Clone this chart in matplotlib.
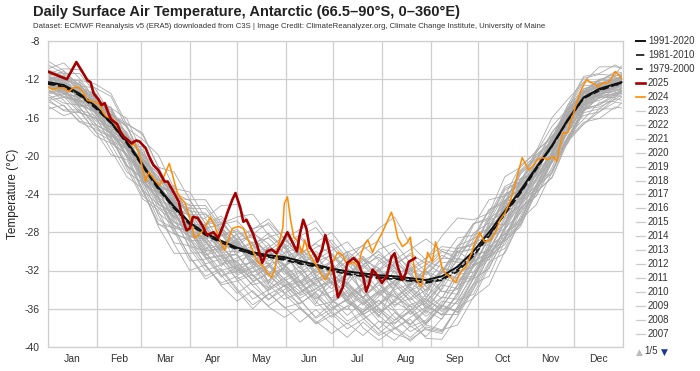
import matplotlib
matplotlib.use("Agg")
import matplotlib.pyplot as plt
from matplotlib.lines import Line2D

plt.rcParams["font.family"] = ["Liberation Sans", "DejaVu Sans"]

# day of year (0 = Jan 1) for the gray years and the climatologies
grid_days = [0, 10, 20, 30, 40, 50, 60, 70, 80, 90, 100, 110, 120, 130, 140, 150, 160, 170, 180,
             190, 200, 210, 220, 230, 240, 250, 260, 270, 280, 290, 300, 310, 320, 330, 340, 350,
             360, 364]

clim_1991_2020 = [-12.3, -12.6, -13.5, -14.8, -16.5, -18.5, -20.9, -23.3, -25.3, -27.0, -28.1, -28.9,
                  -29.6, -30.1, -30.4, -30.6, -31.0, -31.4, -31.8, -32.1, -32.3, -32.5, -32.6, -32.8,
                  -33.0, -32.6, -31.6, -30.0, -28.0, -25.8, -23.6, -21.2, -18.9, -16.2, -13.9, -13.0,
                  -12.5, -12.3]
clim_1981_2010 = [-12.4, -12.7, -13.6, -14.9, -16.6, -18.6, -21.0, -23.4, -25.4, -27.1, -28.2, -29.0,
                  -29.7, -30.3, -30.5, -30.8, -31.2, -31.5, -31.9, -32.3, -32.5, -32.7, -32.8, -33.0,
                  -33.2, -32.9, -31.9, -30.3, -28.3, -26.0, -23.8, -21.3, -19.0, -16.3, -14.0, -13.1,
                  -12.6, -12.4]
clim_1979_2000 = [-12.5, -12.8, -13.7, -15.0, -16.6, -18.7, -21.1, -23.5, -25.5, -27.2, -28.3, -29.1,
                  -29.8, -30.3, -30.6, -30.9, -31.3, -31.6, -32.0, -32.4, -32.6, -32.8, -32.9, -33.1,
                  -33.3, -33.0, -32.1, -30.5, -28.4, -26.1, -23.9, -21.4, -19.0, -16.3, -14.0, -13.2,
                  -12.6, -12.5]

days_2025 = [0, 6, 12, 18, 21, 25, 27, 29, 32, 34, 36, 38, 40, 44, 46, 48, 51, 53, 56, 58, 62, 64, 67,
             70, 74, 76, 79, 83, 86, 88, 90, 92, 95, 98, 101, 105, 108, 111, 114, 117, 119, 122, 124,
             126, 130, 133, 136, 139, 142, 145, 149, 152, 155, 158, 160, 162, 164, 166, 170, 171, 174,
             176, 178, 181, 184, 187, 190, 194, 197, 200, 202, 204, 206, 209, 212, 215, 218, 220, 222,
             225, 227, 229, 231, 233]
t_2025 = [-11.2, -11.6, -12.0, -10.2, -11.0, -12.1, -12.3, -13.5, -14.1, -14.7, -14.5, -15.4, -16.2,
          -16.7, -17.5, -18.0, -18.4, -18.7, -18.4, -18.5, -19.2, -20.0, -21.0, -21.5, -22.7, -22.7,
          -23.6, -24.8, -26.9, -27.8, -27.6, -26.4, -26.5, -27.3, -28.3, -28.0, -28.6, -27.4, -25.9,
          -24.6, -23.9, -25.4, -26.9, -26.7, -28.1, -29.5, -31.2, -30.0, -29.8, -30.2, -29.0, -28.0,
          -29.0, -30.0, -28.1, -26.7, -27.6, -29.5, -30.6, -31.1, -29.8, -28.3, -29.5, -31.9, -34.8,
          -33.8, -31.2, -30.7, -31.2, -32.6, -34.2, -33.3, -31.9, -32.5, -33.3, -32.6, -30.6, -30.2,
          -31.6, -33.0, -32.3, -31.1, -30.9, -30.7]

days_2024 = [0, 3, 6, 10, 13, 16, 19, 22, 25, 30, 33, 35, 37, 41, 44, 47, 50, 53, 55, 58, 62, 64, 68,
             71, 74, 77, 79, 82, 85, 87, 90, 93, 97, 100, 103, 106, 109, 112, 114, 117, 121, 124, 127,
             130, 133, 137, 139, 142, 144, 146, 149, 150, 152, 154, 156, 159, 161, 163, 165, 168, 171,
             173, 176, 178, 181, 184, 187, 190, 194, 197, 199, 201, 203, 206, 209, 212, 215, 218, 220,
             222, 225, 228, 230, 232, 234, 237, 239, 241, 244, 246, 248, 250, 252, 254, 256, 259, 260,
             263, 265, 267, 269, 271, 274, 277, 281, 284, 287, 290, 293, 295, 298, 301, 303, 305, 308,
             311, 314, 317, 321, 323, 325, 327, 330, 331, 333, 336, 339, 342, 344, 347, 349, 352, 355,
             357, 360, 362, 364]
t_2024 = [-12.8, -13.1, -12.9, -12.9, -13.3, -12.9, -12.8, -13.3, -14.2, -14.4, -14.7, -15.5, -15.9,
          -16.1, -17.0, -17.8, -18.2, -18.9, -18.7, -19.9, -22.7, -21.7, -22.6, -23.1, -22.0, -20.8,
          -22.0, -23.8, -24.6, -24.9, -26.5, -28.6, -28.1, -27.4, -26.4, -27.4, -28.8, -29.9, -29.0,
          -27.6, -27.4, -27.6, -28.8, -29.9, -31.1, -31.6, -32.2, -32.7, -31.9, -29.5, -27.6, -25.0,
          -24.3, -26.7, -28.5, -29.0, -30.2, -28.8, -30.0, -30.9, -31.6, -32.3, -33.0, -32.4, -31.0,
          -30.1, -30.4, -31.4, -31.1, -31.6, -30.1, -29.3, -28.8, -30.1, -29.0, -28.1, -27.0, -25.9,
          -27.0, -28.6, -29.5, -29.1, -28.5, -31.2, -33.0, -33.7, -31.9, -30.1, -31.1, -29.0, -30.2,
          -31.6, -32.3, -32.5, -32.8, -33.3, -32.8, -31.9, -31.7, -30.9, -30.1, -29.0, -28.0, -29.0,
          -28.8, -28.0, -26.7, -26.0, -24.9, -23.9, -22.0, -20.2, -20.8, -21.5, -21.0, -20.4, -20.2,
          -20.4, -20.1, -20.6, -18.9, -17.6, -17.6, -16.8, -15.9, -14.2, -12.9, -12.0, -12.3, -12.5,
          -12.8, -12.4, -12.4, -12.1, -11.2, -11.5, -11.9]

# earlier years (gray), sampled every 10 days
y2023 = [-12.0, -12.8, -13.0, -14.6, -16.9, -17.9, -19.9, -23.0, -26.1, -28.5, -27.7, -27.1, -28.7,
         -31.3, -32.5, -30.1, -28.6, -30.3, -32.7, -34.7, -33.3, -31.0, -29.8, -32.2, -34.8, -33.1,
         -29.7, -29.2, -29.0, -25.1, -22.4, -21.8, -18.5, -15.3, -13.7, -13.3, -12.1, -12.2]
y2022 = [-12.8, -13.5, -13.8, -14.4, -15.7, -18.7, -22.0, -25.1, -25.9, -26.1, -26.6, -29.2, -31.6,
         -32.9, -31.5, -29.4, -31.4, -33.9, -34.9, -33.4, -31.5, -33.1, -35.3, -36.2, -34.5, -31.7,
         -32.4, -32.2, -29.4, -25.5, -24.6, -23.1, -19.6, -15.7, -14.3, -13.6, -12.7, -12.8]
y2021 = [-11.5, -11.4, -12.9, -15.1, -17.4, -19.9, -21.4, -22.5, -23.7, -26.6, -29.3, -29.6, -28.2,
         -27.9, -29.8, -32.1, -33.3, -31.8, -30.2, -31.8, -34.3, -35.5, -33.8, -31.9, -32.8, -34.2,
         -34.0, -30.9, -26.9, -24.0, -23.1, -22.0, -20.1, -16.5, -13.3, -12.1, -12.1, -11.8]
y2020 = [-12.5, -13.2, -14.5, -15.5, -16.7, -19.4, -22.5, -24.5, -25.8, -28.8, -30.7, -30.4, -30.3,
         -32.5, -33.9, -32.8, -32.0, -34.3, -35.9, -35.1, -33.9, -35.9, -37.2, -35.6, -34.9, -36.3,
         -34.7, -31.6, -30.5, -27.8, -24.8, -23.5, -20.4, -17.0, -15.0, -13.6, -12.8, -12.7]
y2019 = [-12.2, -12.1, -12.6, -14.5, -16.5, -17.8, -19.4, -22.7, -25.6, -26.2, -26.1, -27.8, -30.1,
         -29.7, -28.5, -28.0, -30.3, -32.2, -31.2, -30.0, -31.3, -32.9, -31.3, -30.4, -32.2, -33.2,
         -30.9, -28.1, -27.0, -25.6, -22.7, -19.9, -18.5, -15.4, -13.4, -12.7, -11.9, -12.1]
y2018 = [-13.0, -12.9, -13.3, -15.4, -17.7, -18.9, -20.6, -24.2, -27.3, -28.1, -27.9, -30.2, -32.3,
         -31.7, -30.0, -31.5, -33.8, -35.0, -33.5, -32.3, -34.2, -36.4, -35.2, -33.3, -34.4, -35.8,
         -33.6, -30.6, -29.8, -28.5, -25.0, -21.7, -20.5, -17.2, -14.2, -13.7, -13.0, -13.1]
y2017 = [-11.2, -12.0, -13.7, -14.3, -15.2, -17.7, -21.3, -23.1, -23.9, -24.7, -27.1, -29.5, -29.1,
         -28.1, -29.2, -31.5, -30.7, -29.6, -28.8, -30.7, -32.8, -31.9, -30.4, -31.7, -33.7, -32.2,
         -29.5, -27.1, -26.7, -26.1, -23.1, -19.6, -17.9, -16.0, -13.2, -12.0, -11.7, -11.4]
y2016 = [-12.6, -13.4, -14.0, -15.9, -17.1, -18.3, -21.6, -24.8, -26.3, -26.9, -29.0, -31.0, -31.0,
         -30.4, -32.1, -33.6, -33.1, -32.0, -33.3, -35.4, -36.3, -34.7, -33.4, -35.3, -36.8, -35.5,
         -32.6, -30.4, -29.9, -27.0, -23.9, -22.1, -20.7, -17.4, -14.5, -13.2, -12.9, -12.9]
y2015 = [-11.9, -11.7, -13.2, -15.3, -16.3, -17.5, -20.5, -23.9, -24.8, -25.7, -27.9, -29.9, -28.8,
         -28.5, -30.5, -32.4, -31.6, -30.0, -31.2, -33.4, -34.8, -33.2, -31.1, -32.5, -34.2, -32.0,
         -30.1, -29.8, -28.9, -25.4, -21.9, -20.4, -19.3, -15.9, -13.0, -12.6, -12.4, -12.0]
y2014 = [-13.2, -13.9, -14.3, -15.2, -17.5, -20.2, -22.0, -23.6, -26.7, -29.5, -29.9, -29.8, -31.8,
         -33.5, -33.0, -31.8, -33.9, -35.7, -35.3, -34.1, -35.4, -37.3, -37.6, -36.1, -35.4, -36.7,
         -35.2, -32.2, -30.8, -28.8, -25.5, -22.3, -20.6, -17.5, -14.7, -14.2, -13.4, -13.3]
y2013 = [-11.7, -12.4, -12.8, -13.6, -16.0, -18.8, -20.3, -21.9, -24.4, -27.4, -29.1, -28.4, -27.9,
         -29.3, -31.3, -30.8, -29.7, -31.0, -33.3, -32.9, -31.4, -30.6, -32.1, -34.1, -33.3, -31.2,
         -31.0, -31.1, -27.7, -24.3, -22.7, -21.1, -18.1, -15.8, -14.0, -12.5, -11.8, -11.9]
y2012 = [-12.7, -12.5, -14.1, -15.0, -15.8, -18.2, -21.7, -23.5, -24.7, -27.7, -30.0, -29.7, -29.0,
         -30.6, -32.4, -31.7, -30.1, -31.3, -33.4, -34.8, -33.5, -32.0, -33.5, -35.1, -34.0, -31.8,
         -32.1, -31.7, -28.6, -25.4, -24.4, -22.5, -19.1, -15.9, -14.4, -13.1, -12.8, -12.5]
y2011 = [-12.1, -13.0, -13.2, -14.0, -16.3, -19.1, -20.5, -22.2, -25.0, -25.5, -25.5, -27.7, -29.8,
         -29.0, -30.1, -31.6, -30.2, -29.2, -30.3, -32.4, -31.4, -29.8, -29.1, -31.2, -32.5, -30.8,
         -28.6, -28.3, -27.6, -24.8, -21.6, -20.3, -18.8, -15.6, -13.6, -12.3, -12.3, -12.3]
y2010 = [-12.4, -12.3, -13.7, -15.6, -17.8, -19.0, -20.6, -23.7, -26.5, -27.3, -27.6, -29.5, -31.2,
         -32.6, -31.7, -30.4, -31.7, -33.6, -33.2, -31.8, -32.8, -34.3, -35.6, -34.9, -33.4, -32.1,
         -32.8, -32.6, -29.9, -26.6, -25.2, -21.9, -18.7, -16.6, -14.7, -13.3, -12.4, -12.5]
y2009 = [-11.8, -12.5, -13.9, -14.6, -15.6, -16.9, -20.1, -23.5, -24.6, -25.1, -27.5, -29.7, -28.7,
         -27.6, -27.2, -29.3, -31.4, -30.4, -29.5, -31.3, -33.2, -31.3, -30.6, -32.4, -31.4, -29.8,
         -30.1, -29.7, -26.6, -23.6, -22.7, -21.4, -18.3, -15.1, -13.5, -12.8, -12.0, -11.7]
y2008 = [-12.9, -12.8, -14.4, -16.3, -17.3, -18.6, -22.2, -25.5, -26.9, -27.7, -30.1, -32.0, -31.5,
         -31.1, -33.1, -34.4, -33.4, -32.7, -35.0, -36.7, -35.3, -34.2, -36.1, -37.9, -37.2, -35.2,
         -35.5, -32.8, -29.6, -28.2, -26.7, -23.0, -19.8, -17.6, -14.9, -13.5, -13.2, -12.9]
y2007 = [-12.0, -11.8, -12.2, -14.1, -16.6, -18.1, -19.7, -22.8, -25.9, -28.4, -28.3, -27.6, -29.2,
         -31.2, -30.7, -29.0, -28.3, -30.5, -32.5, -31.5, -30.5, -32.2, -34.0, -33.4, -31.9, -30.4,
         -31.2, -30.9, -27.5, -24.6, -23.5, -21.9, -18.6, -15.3, -13.3, -12.6, -11.6, -11.6]
y2006 = [-13.1, -13.8, -14.2, -14.9, -17.1, -19.9, -21.8, -23.1, -25.7, -28.6, -30.4, -29.9, -29.2,
         -30.9, -32.6, -33.7, -32.5, -31.3, -33.1, -35.1, -36.1, -34.4, -33.2, -34.8, -36.5, -34.9,
         -32.3, -31.5, -30.6, -27.5, -24.1, -22.4, -19.7, -16.5, -14.6, -14.0, -13.1, -13.2]
y2005 = [-11.4, -12.2, -13.4, -14.2, -16.2, -19.0, -20.7, -22.4, -23.5, -26.3, -28.6, -28.3, -27.7,
         -29.2, -31.0, -30.2, -29.5, -31.6, -33.4, -32.5, -31.0, -30.0, -31.7, -33.6, -32.3, -30.7,
         -30.8, -28.5, -25.6, -24.7, -23.4, -20.4, -17.5, -15.6, -13.8, -12.4, -12.2, -11.8]
y2004 = [-12.5, -13.1, -14.6, -15.4, -16.4, -18.8, -21.9, -23.8, -24.9, -27.5, -29.5, -31.3, -30.7,
         -29.9, -31.4, -32.9, -34.2, -33.2, -32.3, -33.8, -35.2, -36.7, -35.0, -33.7, -35.1, -36.0,
         -36.1, -32.8, -29.4, -26.4, -25.1, -23.3, -19.9, -16.7, -14.8, -13.4, -12.7, -12.6]
y2003 = [-11.6, -11.2, -12.6, -14.6, -15.7, -17.0, -20.3, -23.7, -24.8, -25.8, -26.0, -28.1, -30.2,
         -29.4, -28.1, -29.6, -31.8, -30.9, -29.9, -29.0, -30.9, -32.7, -31.5, -30.2, -31.3, -32.3,
         -30.0, -29.1, -28.4, -25.0, -21.8, -20.1, -18.6, -15.3, -12.7, -12.5, -12.2, -11.9]
y2002 = [-13.5, -13.4, -15.0, -16.7, -17.6, -19.1, -22.7, -26.0, -27.3, -28.0, -30.5, -32.5, -32.1,
         -31.5, -33.5, -35.0, -34.3, -33.4, -35.6, -37.3, -36.3, -35.1, -36.9, -38.4, -37.4, -35.6,
         -36.3, -33.4, -30.1, -28.9, -27.2, -23.7, -20.5, -18.2, -15.2, -13.9, -13.9, -13.4]
y2001 = [-12.3, -12.9, -13.1, -13.9, -15.0, -17.8, -21.1, -24.3, -25.6, -26.2, -28.0, -30.1, -30.0,
         -29.1, -28.6, -30.2, -32.3, -33.4, -32.3, -31.0, -32.1, -34.0, -34.8, -33.5, -32.1, -32.8,
         -33.3, -30.8, -27.3, -26.1, -24.7, -21.6, -18.4, -16.1, -14.2, -12.8, -12.6, -12.2]
y2000 = [-12.8, -12.7, -13.3, -15.1, -17.4, -20.1, -21.6, -22.9, -25.8, -28.5, -28.7, -28.2, -30.5,
         -32.2, -31.4, -33.2, -34.5, -33.0, -32.1, -34.3, -35.6, -34.3, -33.0, -34.4, -35.9, -34.0,
         -31.4, -31.1, -30.0, -28.7, -25.1, -21.6, -20.0, -16.8, -14.1, -13.6, -12.9, -12.6]
y1999 = [-11.0, -11.7, -13.0, -13.8, -16.1, -18.7, -20.4, -22.2, -25.1, -27.7, -27.5, -27.2, -26.8,
         -28.6, -30.2, -29.2, -30.4, -32.0, -31.0, -30.1, -29.4, -30.9, -32.3, -31.8, -30.7, -29.5,
         -29.7, -29.4, -26.6, -25.3, -23.8, -20.6, -17.6, -15.4, -13.5, -12.1, -11.4, -11.5]
y1998 = [-12.7, -13.5, -13.9, -14.5, -16.7, -19.5, -22.6, -24.1, -25.0, -27.8, -29.7, -29.4, -31.4,
         -33.1, -32.3, -31.3, -33.1, -34.9, -34.2, -33.2, -34.9, -36.4, -35.3, -34.0, -35.7, -36.6,
         -34.4, -31.6, -28.6, -27.6, -26.0, -22.4, -19.5, -17.5, -14.7, -13.5, -13.3, -12.9]
y1997 = [-11.7, -12.3, -13.7, -14.4, -15.4, -18.0, -21.4, -23.0, -24.0, -26.5, -28.4, -27.9, -29.4,
         -31.4, -30.0, -28.7, -30.4, -32.4, -33.9, -32.5, -30.8, -31.8, -33.5, -32.0, -31.0, -31.7,
         -32.2, -29.8, -26.2, -23.2, -22.4, -20.9, -19.4, -15.8, -13.2, -12.9, -12.1, -12.0]
y1996 = [-13.3, -13.1, -13.6, -15.5, -17.9, -19.3, -21.1, -24.4, -27.4, -28.4, -28.5, -30.6, -32.5,
         -31.7, -31.2, -32.9, -34.6, -33.9, -32.8, -34.8, -36.6, -35.6, -34.1, -35.7, -37.6, -35.8,
         -33.5, -32.9, -30.0, -26.9, -25.5, -23.8, -20.3, -17.1, -15.1, -13.7, -13.5, -13.2]
y1995 = [-12.1, -12.0, -12.5, -14.3, -16.9, -18.2, -19.9, -21.6, -24.5, -27.2, -27.2, -26.9, -28.9,
         -30.6, -29.6, -30.5, -32.2, -31.1, -30.4, -31.9, -33.3, -32.0, -31.0, -32.5, -34.1, -32.2,
         -29.4, -28.7, -27.6, -24.2, -22.9, -21.5, -18.7, -15.7, -13.0, -12.4, -12.3, -11.9]
y1994 = [-12.6, -13.3, -14.7, -15.3, -16.2, -18.9, -22.2, -23.9, -25.4, -28.1, -28.6, -30.4, -32.0,
         -31.0, -32.4, -31.8, -33.6, -32.9, -32.2, -33.7, -34.8, -33.5, -34.7, -35.8, -35.2, -33.5,
         -33.9, -31.4, -28.5, -27.2, -24.5, -22.7, -19.6, -16.4, -14.5, -13.3, -13.0, -12.7]
y1993 = [-14.8, -15.8, -15.3, -17.4, -19.9, -20.4, -23.7, -27.2, -27.5, -30.6, -32.9, -32.0, -34.1,
         -36.0, -34.4, -35.8, -37.4, -36.1, -37.6, -39.0, -37.4, -38.8, -38.0, -39.4, -37.9, -38.3,
         -35.8, -33.4, -32.6, -28.9, -27.4, -23.8, -22.2, -18.3, -16.7, -15.4, -14.4, -14.5]
y1992 = [-10.5, -11.4, -11.4, -13.4, -15.9, -16.8, -20.5, -24.5, -27.6, -27.8, -30.7, -32.7, -31.6,
         -33.6, -35.1, -33.5, -35.1, -36.9, -35.4, -34.3, -36.7, -38.1, -36.4, -37.7, -36.2, -37.1,
         -34.3, -31.3, -30.9, -27.4, -23.3, -22.1, -18.1, -14.7, -11.7, -11.4, -10.5, -10.9]
y1991 = [-13.8, -14.8, -16.4, -16.8, -17.6, -20.9, -24.2, -25.4, -26.3, -29.7, -32.0, -31.4, -31.0,
         -33.1, -35.0, -34.0, -33.1, -35.2, -36.9, -35.7, -34.7, -36.7, -38.1, -36.9, -35.8, -36.6,
         -36.6, -33.6, -30.5, -29.7, -26.3, -23.0, -21.5, -17.9, -16.2, -14.4, -14.3, -13.9]
y1990 = [-10.1, -11.1, -12.7, -12.9, -13.8, -17.1, -18.3, -19.9, -23.4, -23.8, -26.5, -25.2, -25.1,
         -27.7, -26.6, -28.7, -27.7, -26.8, -29.2, -30.9, -29.3, -27.6, -26.4, -29.3, -30.9, -28.4,
         -26.5, -26.7, -26.0, -22.2, -21.2, -19.5, -16.0, -14.1, -12.3, -10.7, -10.7, -10.8]
y1989 = [-13.1, -14.2, -16.0, -17.9, -18.7, -19.8, -23.5, -27.1, -28.2, -28.7, -31.4, -33.5, -33.1,
         -32.4, -34.3, -35.9, -35.4, -34.4, -36.5, -38.1, -37.1, -36.0, -37.9, -39.0, -37.6, -35.7,
         -36.4, -33.9, -30.4, -29.3, -25.8, -24.2, -20.6, -18.6, -15.5, -15.1, -13.8, -13.3]
y1988 = [-15.1, -14.7, -16.5, -17.2, -18.1, -21.0, -22.3, -23.6, -27.0, -27.6, -27.3, -30.1, -32.0,
         -31.0, -29.7, -32.1, -33.9, -32.6, -31.4, -33.9, -35.5, -34.1, -32.0, -34.1, -35.7, -33.4,
         -30.7, -31.4, -30.6, -27.7, -24.4, -23.3, -21.7, -18.2, -16.5, -16.1, -14.9, -15.0]
y1987 = [-10.9, -10.3, -11.9, -14.1, -15.0, -16.1, -19.8, -21.3, -24.7, -27.7, -27.1, -26.6, -29.1,
         -31.2, -29.6, -28.4, -30.7, -33.0, -32.0, -30.4, -32.7, -34.6, -33.1, -31.4, -33.7, -34.9,
         -32.2, -28.8, -25.7, -24.9, -21.5, -19.9, -18.5, -15.0, -11.9, -11.5, -11.6, -10.6]
y1986 = [-13.4, -13.1, -14.9, -17.0, -18.0, -21.3, -24.5, -25.7, -29.2, -32.0, -31.4, -33.6, -35.2,
         -34.1, -35.8, -36.9, -35.9, -37.3, -38.6, -37.5, -38.8, -37.3, -38.6, -39.2, -38.1, -38.4,
         -35.9, -34.9, -31.6, -28.6, -27.1, -23.6, -20.7, -18.7, -15.3, -13.9, -13.7, -13.3]
y1985 = [-11.8, -13.6, -12.3, -15.2, -14.9, -19.3, -19.0, -23.8, -23.1, -26.6, -29.9, -27.4, -32.2,
         -29.2, -33.4, -29.3, -33.2, -35.5, -32.4, -30.3, -35.1, -36.9, -33.6, -31.7, -36.3, -33.8,
         -30.0, -31.1, -27.1, -27.2, -22.4, -21.8, -18.1, -17.5, -13.3, -13.9, -12.1, -12.5]
y1984 = [-14.2, -13.9, -14.1, -16.6, -19.4, -22.2, -23.4, -27.4, -30.2, -30.2, -30.1, -32.5, -34.4,
         -33.2, -32.3, -34.3, -35.5, -34.2, -33.2, -35.3, -36.4, -35.1, -36.3, -37.6, -36.0, -34.8,
         -35.0, -32.5, -29.5, -28.2, -26.9, -23.1, -20.1, -18.1, -15.0, -14.7, -13.7, -13.8]
y1983 = [-11.4, -10.9, -11.0, -13.0, -15.7, -16.6, -17.8, -21.1, -24.4, -24.6, -24.6, -27.1, -26.4,
         -26.1, -28.3, -29.7, -28.4, -27.5, -29.5, -31.3, -29.8, -28.9, -30.9, -29.8, -28.7, -30.0,
         -30.5, -27.3, -24.6, -24.2, -21.0, -19.7, -16.9, -15.1, -12.3, -12.2, -11.2, -11.3]
y1982 = [-14.3, -15.2, -15.2, -15.8, -18.8, -21.7, -22.8, -24.4, -27.9, -31.0, -30.8, -30.5, -33.0,
         -35.0, -34.0, -32.8, -35.0, -37.0, -36.0, -35.0, -37.0, -38.6, -37.2, -36.2, -38.2, -38.6,
         -35.8, -32.9, -31.8, -28.4, -25.4, -24.2, -21.2, -17.4, -15.8, -15.4, -14.0, -14.2]
y1981 = [-12.9, -11.5, -14.4, -14.0, -18.0, -17.9, -22.8, -22.4, -26.5, -25.4, -28.9, -31.6, -29.1,
         -31.7, -33.8, -31.5, -29.6, -32.7, -35.3, -33.1, -30.6, -33.3, -35.8, -34.2, -32.0, -34.2,
         -34.5, -29.6, -29.3, -24.7, -24.5, -20.5, -20.0, -15.6, -14.7, -12.5, -12.9, -12.0]
y1980 = [-12.6, -13.8, -15.5, -16.1, -17.0, -20.1, -23.6, -25.1, -25.9, -29.1, -31.3, -30.8, -30.3,
         -32.5, -34.1, -33.1, -32.2, -34.7, -36.2, -34.9, -33.8, -36.1, -37.5, -36.3, -37.7, -38.2,
         -37.7, -34.8, -33.5, -30.0, -26.7, -25.1, -21.7, -18.2, -15.4, -13.8, -13.6, -13.0]
y1979 = [-11.1, -12.1, -12.1, -12.5, -13.5, -16.7, -17.6, -21.2, -21.7, -24.6, -27.1, -26.3, -28.3,
         -30.5, -29.3, -31.4, -33.3, -32.3, -31.1, -33.5, -34.9, -33.1, -31.7, -33.8, -35.4, -33.1,
         -29.8, -27.1, -26.5, -23.4, -22.7, -19.4, -18.2, -14.7, -13.3, -12.0, -12.2, -11.6]
y1978 = [-14.0, -13.5, -15.3, -17.5, -18.4, -19.3, -23.0, -26.7, -27.6, -30.6, -32.6, -31.8, -33.9,
         -35.6, -34.5, -33.6, -35.8, -37.6, -36.7, -35.7, -38.0, -39.3, -38.1, -37.1, -39.1, -39.2,
         -36.8, -34.0, -31.1, -30.2, -26.8, -23.3, -21.8, -18.0, -15.1, -14.9, -14.1, -13.6]
y1977 = [-11.9, -13.1, -12.9, -13.5, -16.3, -19.4, -20.4, -21.8, -24.9, -25.2, -25.2, -27.4, -29.4,
         -28.2, -27.0, -28.6, -30.4, -29.1, -28.0, -30.2, -31.8, -30.3, -31.6, -33.4, -31.8, -30.0,
         -30.8, -30.9, -27.4, -26.4, -22.9, -21.7, -18.3, -15.0, -13.5, -13.3, -12.0, -12.1]
y1976 = [-14.1, -15.3, -15.5, -16.0, -18.6, -19.9, -21.5, -25.0, -28.1, -28.9, -28.8, -31.1, -32.9,
         -32.1, -31.5, -33.4, -34.9, -33.9, -33.1, -35.1, -36.6, -35.6, -34.4, -36.1, -37.5, -35.8,
         -33.5, -31.0, -30.3, -28.7, -25.6, -23.8, -22.3, -18.5, -16.7, -15.1, -15.1, -14.5]
y1975 = [-11.5, -12.9, -14.9, -14.6, -15.2, -18.7, -22.5, -23.2, -23.8, -27.6, -30.4, -29.3, -28.2,
         -31.0, -33.3, -31.6, -29.9, -32.6, -35.1, -36.1, -33.8, -31.7, -34.3, -36.6, -35.0, -32.1,
         -33.0, -32.8, -28.9, -25.0, -24.9, -21.3, -17.9, -16.6, -13.3, -13.6, -12.2, -11.7]
y1974 = [-13.6, -14.5, -14.7, -15.4, -18.3, -21.1, -22.4, -26.2, -29.1, -29.4, -31.6, -33.3, -32.6,
         -34.3, -35.7, -34.5, -36.0, -37.5, -36.3, -37.6, -36.5, -38.2, -39.3, -37.8, -38.9, -37.0,
         -35.1, -34.5, -31.3, -28.0, -26.6, -23.2, -20.4, -18.4, -15.2, -14.6, -13.5, -13.5]

gray_years = [y2023, y2022, y2021, y2020, y2019, y2018, y2017, y2016, y2015, y2014, y2013, y2012,
              y2011, y2010, y2009, y2008, y2007, y2006, y2005, y2004, y2003, y2002, y2001, y2000,
              y1999, y1998, y1997, y1996, y1995, y1994, y1993, y1992, y1991, y1990, y1989, y1988,
              y1987, y1986, y1985, y1984, y1983, y1982, y1981, y1980, y1979, y1978, y1977, y1976,
              y1975, y1974]

month_names = ["Jan", "Feb", "Mar", "Apr", "May", "Jun", "Jul", "Aug", "Sep", "Oct", "Nov", "Dec"]
month_starts = [0, 31, 59, 90, 120, 151, 181, 212, 243, 273, 304, 334, 365]
y_ticks = [-40, -36, -32, -28, -24, -20, -16, -12, -8]
legend_gray_labels = [str(y) for y in range(2023, 2006, -1)]

RED = "#a50000"
ORANGE = "#ff8c00"
GRAY = "#ababab"
GRID = "#cfcfcf"

W, H = 700, 371
fig = plt.figure(figsize=(W / 100, H / 100), dpi=100)
ax = fig.add_axes([48 / W, 1 - 347 / H, 575 / W, 306 / H])

for series in gray_years:
    ax.plot(grid_days, series, color=GRAY, lw=0.6, zorder=2)
ax.plot(grid_days, clim_1979_2000, color="#111111", lw=1.2, ls=(0, (4, 2)), zorder=3)
ax.plot(grid_days, clim_1981_2010, color="#111111", lw=1.2, ls=(0, (5, 2, 1, 2)), zorder=3)
ax.plot(grid_days, clim_1991_2020, color="#111111", lw=1.4, zorder=3)
ax.plot(days_2024, t_2024, color=ORANGE, lw=1.1, zorder=4)
ax.plot(days_2025, t_2025, color=RED, lw=1.9, zorder=5)

ax.set_xlim(0, 365)
ax.set_ylim(-40, -8)
ax.set_yticks(y_ticks)
ax.set_yticklabels([str(v) for v in y_ticks])
ax.set_xticks(month_starts)
ax.set_xticklabels([])
mids = [(a + b) / 2 for a, b in zip(month_starts[:-1], month_starts[1:])]
ax.set_xticks(mids, minor=True)
ax.set_xticklabels(month_names, minor=True)
ax.tick_params(axis="both", which="both", length=0, labelsize=7.5, colors="#333333")
ax.tick_params(axis="x", which="minor", pad=5)
ax.tick_params(axis="y", pad=6)
ax.grid(True, which="major", color=GRID, lw=0.9, zorder=0)
ax.set_axisbelow(True)
for sp in ax.spines.values():
    sp.set_color(GRID)
    sp.set_linewidth(0.9)
ax.set_ylabel("Temperature (°C)", fontsize=8.5, color="#222222", labelpad=4)

fig.text(33 / W, 1 - 12 / H, "Daily Surface Air Temperature, Antarctic (66.5–90°S, 0–360°E)",
         fontsize=10.5, fontweight="bold", color="#222222", va="center", ha="left")
fig.text(33 / W, 1 - 26 / H,
         "Dataset: ECMWF Reanalysis v5 (ERA5) downloaded from C3S | Image Credit: "
         "ClimateReanalyzer.org, Climate Change Institute, University of Maine",
         fontsize=5.6, color="#333333", va="center", ha="left")

# legend on the right
entries = [("1991-2020", "#111111", "-", 1.4), ("1981-2010", "#111111", (0, (5, 2, 1, 2)), 1.2),
           ("1979-2000", "#111111", (0, (4, 2)), 1.2), ("2025", RED, "-", 1.9),
           ("2024", ORANGE, "-", 1.2)]
entries += [(lab, "#cccccc", "-", 0.9) for lab in legend_gray_labels]
for i, (lab, col, ls, lw) in enumerate(entries):
    yy = 1 - (41 + i * 13.95) / H
    fig.add_artist(Line2D([636 / W, 645 / W], [yy, yy], color=col, ls=ls, lw=lw,
                          transform=fig.transFigure))
    fig.text(648 / W, yy, lab, fontsize=7, color="#333333", va="center", ha="left")

fig.text(636 / W, 1 - 352 / H, "▲", fontsize=6.5, color="#bbbbbb", va="center", ha="left",
         family=["DejaVu Sans"])
fig.text(644 / W, 1 - 351 / H, "1/5", fontsize=7, color="#333333", va="center", ha="left")
fig.text(661 / W, 1 - 352 / H, "▼", fontsize=6.5, color="#1a3a8f", va="center", ha="left",
         family=["DejaVu Sans"])

fig.savefig("out.png", dpi=100)
